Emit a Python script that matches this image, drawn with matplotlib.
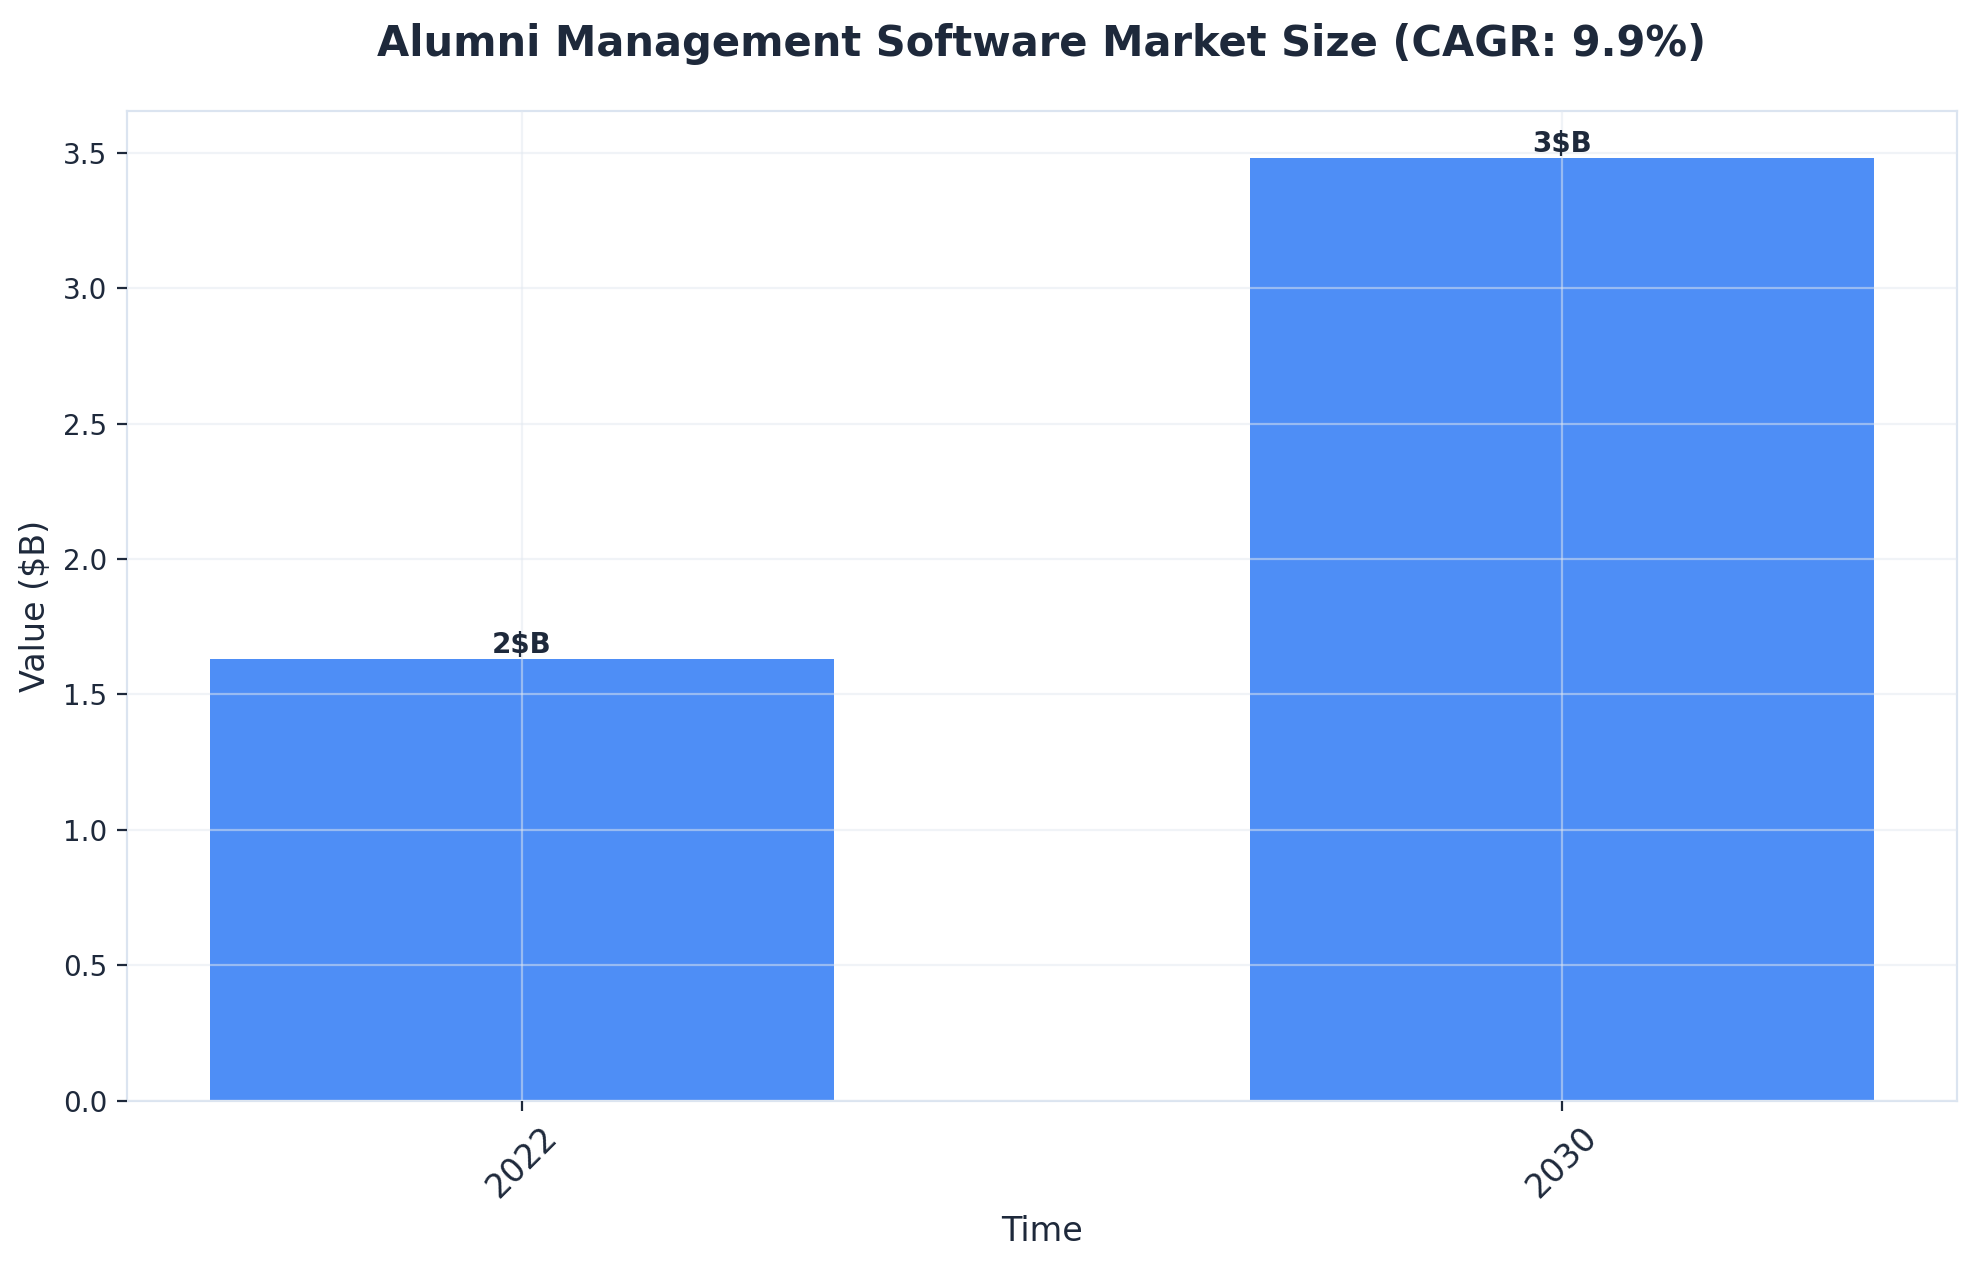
import matplotlib
matplotlib.use("Agg")
import matplotlib.pyplot as plt

years = ["2022", "2030"]
values = [1.63, 3.48]
labels = ["2$B", "3$B"]

fig, ax = plt.subplots(figsize=(9.885, 6.325), dpi=200)
bars = ax.bar(years, values, width=0.6, color="#3b82f6", alpha=0.9, zorder=2)
for b, l in zip(bars, labels):
    ax.text(b.get_x() + b.get_width()/2, b.get_height(), l, ha="center", va="bottom",
            fontsize=10, fontweight="bold", color="#1e293b")
ax.set_title("Alumni Management Software Market Size (CAGR: 9.9%)", fontsize=15,
             fontweight="bold", color="#1e293b", pad=20)
ax.set_xlabel("Time", fontsize=12, color="#1e293b")
ax.set_ylabel("Value ($B)", fontsize=12, color="#1e293b")
ax.grid(True, color="#e2e8f0", alpha=0.5, zorder=3)
ax.set_axisbelow(False)
for s in ax.spines.values():
    s.set_color("#dbe4f0")
ax.tick_params(colors="#1e293b", labelsize=10)
ax.tick_params(axis="x", labelsize=12)
plt.setp(ax.get_xticklabels(), rotation=45)
fig.subplots_adjust(left=0.064, right=0.99, top=0.912, bottom=0.13)
fig.savefig("out.png", dpi=200)
